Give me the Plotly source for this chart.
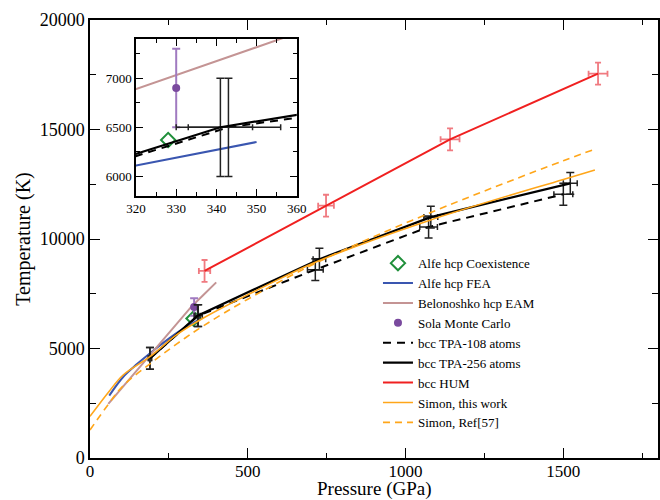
import plotly.graph_objects as go

# ---------------- data ----------------
# Alfe hcp coexistence
coex_p = [328]
coex_t = [6370]
# Alfe hcp FEA
fea_p = [61, 105, 150, 200, 250, 300, 320, 350]
fea_t = [2850, 3700, 4300, 4900, 5450, 5950, 6110, 6350]
# Belonoshko hcp EAM
bel_p = [58, 190, 320, 356, 400]
bel_t = [2470, 4700, 6890, 7400, 8020]
# Sola Monte Carlo
sola_p = [330]
sola_t = [6900]
sola_terr = [400]
# bcc TPA-108 atoms
tpa108_p = [190, 343, 714, 1073, 1500]
tpa108_t = [4550, 6500, 8600, 10550, 12040]
tpa108_perr = [5, 13, 25, 28, 30]
tpa108_terr = [500, 500, 500, 500, 500]
# bcc TPA-256 atoms
tpa256_p = [190, 341, 727, 1080, 1522]
tpa256_t = [4550, 6500, 9080, 11000, 12540]
tpa256_perr = [5, 8, 20, 22, 22]
tpa256_terr = [500, 500, 500, 500, 500]
# bcc HUM
hum_p = [363, 748, 1141, 1610]
hum_t = [8540, 11520, 14550, 17550]
hum_perr = [18, 25, 30, 30]
hum_terr = [500, 500, 500, 500]
# Simon, this work
sim_p = [0, 61, 105, 190, 274, 358, 569, 716, 1075, 1500, 1600]
sim_t = [1900, 3050, 3790, 4625, 5620, 6380, 7950, 8950, 10850, 12720, 13150]
# Simon, Ref[57]
ref_p = [0, 58, 105, 190, 274, 363, 500, 716, 1070, 1500, 1600]
ref_t = [1280, 2450, 3300, 4300, 5200, 6070, 7250, 8900, 11150, 13575, 14100]

x_title = "Pressure (GPa)"
y_title = "Temperature (K)"

# ---------------- styles ----------------
GREEN = "#1f8f3a"
BLUE = "#3a56b0"
ROSY = "#c49494"
PURPLE = "#7a4a9e"
PURPLE_ERR = "#a07ac0"
RED = "#f02020"
RED_ERR = "#f07a80"
ORANGE = "#ffa61a"
BLACK = "#000000"
FONT = "Liberation Serif"

fig = go.Figure()


def add_all(xa, ya, legend):
    fig.add_trace(go.Scatter(
        x=coex_p, y=coex_t, mode="markers", name="Alfe hcp Coexistence",
        marker=dict(symbol="diamond-open", size=11, color=GREEN, line=dict(width=2, color=GREEN)),
        xaxis=xa, yaxis=ya, showlegend=legend))
    fig.add_trace(go.Scatter(
        x=fea_p, y=fea_t, mode="lines", name="Alfe hcp FEA",
        line=dict(color=BLUE, width=2, shape="spline"),
        xaxis=xa, yaxis=ya, showlegend=legend))
    fig.add_trace(go.Scatter(
        x=bel_p, y=bel_t, mode="lines", name="Belonoshko hcp EAM",
        line=dict(color=ROSY, width=2),
        xaxis=xa, yaxis=ya, showlegend=legend))
    fig.add_trace(go.Scatter(
        x=sola_p, y=sola_t, mode="markers", name="Sola Monte Carlo",
        marker=dict(symbol="circle", size=8, color=PURPLE),
        error_y=dict(type="data", array=sola_terr, color=PURPLE_ERR, thickness=2, width=4),
        xaxis=xa, yaxis=ya, showlegend=legend))
    fig.add_trace(go.Scatter(
        x=tpa108_p, y=tpa108_t, mode="lines", name="bcc TPA-108 atoms",
        line=dict(color=BLACK, width=2, dash="8px,6px"),
        error_x=dict(type="data", array=tpa108_perr, color="#222", thickness=1.5, width=3),
        error_y=dict(type="data", array=tpa108_terr, color="#222", thickness=1.5, width=4),
        xaxis=xa, yaxis=ya, showlegend=legend))
    fig.add_trace(go.Scatter(
        x=tpa256_p, y=tpa256_t, mode="lines", name="bcc TPA-256 atoms",
        line=dict(color=BLACK, width=2.2),
        error_x=dict(type="data", array=tpa256_perr, color="#222", thickness=1.5, width=3),
        error_y=dict(type="data", array=tpa256_terr, color="#222", thickness=1.5, width=4),
        xaxis=xa, yaxis=ya, showlegend=legend))


add_all("x", "y", True)

fig.add_trace(go.Scatter(
    x=hum_p, y=hum_t, mode="lines", name="bcc HUM",
    line=dict(color=RED, width=2),
    error_x=dict(type="data", array=hum_perr, color=RED_ERR, thickness=1.8, width=3),
    error_y=dict(type="data", array=hum_terr, color=RED_ERR, thickness=1.8, width=3)))
fig.add_trace(go.Scatter(
    x=sim_p, y=sim_t, mode="lines", name="Simon, this work",
    line=dict(color=ORANGE, width=1.6, shape="spline")))
fig.add_trace(go.Scatter(
    x=ref_p, y=ref_t, mode="lines", name="Simon, Ref[57]",
    line=dict(color=ORANGE, width=1.6, dash="7px,5px", shape="spline")))

# inset
add_all("x2", "y2", False)

axis_common = dict(showline=True, linecolor="black", linewidth=1.5, mirror="allticks",
                   ticks="inside", showgrid=False, zeroline=False, automargin=False,
                   tickcolor="black", tickformat="d", separatethousands=False,
                   tickfont=dict(family=FONT, size=18, color="black"))
inset_font = dict(family=FONT, size=13, color="black")

fig.update_layout(
    width=660, height=500,
    margin=dict(l=90, r=2, t=20, b=42),
    paper_bgcolor="white", plot_bgcolor="white",
    font=dict(family=FONT, color="black"),
    xaxis=dict(range=[0, 1800], dtick=500, tick0=0, ticklen=10, tickwidth=1.2,
               ticklabelstandoff=-3,
               minor=dict(dtick=250, ticklen=5, ticks="inside", tickcolor="black"),
               **{**axis_common, "tickfont": dict(family=FONT, size=17, color="black")}),
    yaxis=dict(range=[0, 20000], dtick=5000, tick0=0, ticklen=10, tickwidth=1.2,
               minor=dict(dtick=2500, ticklen=6, ticks="inside", tickcolor="black"),
               title=dict(text=y_title, font=dict(family=FONT, size=20), standoff=4),
               **axis_common),
    xaxis2=dict(domain=[0.081, 0.364], anchor="y2", range=[320, 360], dtick=10, tick0=320,
                ticklen=7, minor=dict(dtick=5, ticklen=4, ticks="inside", tickcolor="black"),
                **{**axis_common, "tickfont": inset_font}),
    yaxis2=dict(domain=[0.598, 0.957], anchor="x2", range=[5800, 7400], dtick=500, tick0=6000,
                ticklen=7, minor=dict(dtick=250, ticklen=4, ticks="inside", tickcolor="black"),
                **{**axis_common, "tickfont": inset_font}),
    legend=dict(x=0.507, y=0.479, xanchor="left", yanchor="top",
                bgcolor="rgba(0,0,0,0)", font=dict(family=FONT, size=13, color="black"),
                tracegroupgap=0, itemwidth=30),
    showlegend=True,
    annotations=[dict(text=x_title, xref="paper", yref="paper", x=0.5, y=-0.070,
                      xanchor="center", yanchor="middle", showarrow=False, borderpad=0,
                      font=dict(family=FONT, size=19, color="black"))],
)

fig.write_html("out.html",
               config={"displayModeBar": False},
               post_script="document.body.style.margin='0';document.body.style.overflow='hidden';")
